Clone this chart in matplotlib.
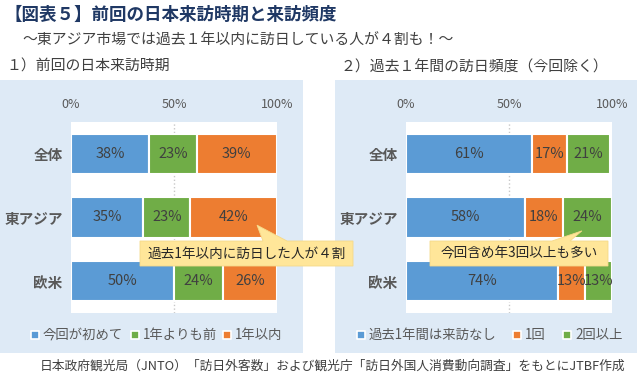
import numpy as np
import matplotlib
matplotlib.use('Agg')
import matplotlib.pyplot as plt
from matplotlib.patches import Rectangle, Polygon

plt.rcParams['font.family'] = ['Noto Sans CJK JP', 'DejaVu Sans']

# data
categories = ['全体', '東アジア', '欧米']

left_series = ['今回が初めて', '1年よりも前', '1年以内']
left_first = [38, 35, 50]
left_before = [23, 23, 24]
left_within = [39, 42, 26]

right_series = ['過去1年間は来訪なし', '1回', '2回以上']
right_none = [61, 58, 74]
right_once = [17, 18, 13]
right_twice = [21, 24, 13]

tick_vals = [0, 50, 100]
tick_labels = ['0%', '50%', '100%']

BLUE = '#5B9BD5'
GREEN = '#70AD47'
ORANGE = '#ED7D31'
BG = '#DEEAF6'
TXT = '#404040'
CAT = '#595959'

W, H = 640, 382
fig = plt.figure(figsize=(W / 100, H / 100), dpi=100)

# background layer in pixel coords
bg = fig.add_axes([0, 0, 1, 1], zorder=0)
bg.set_xlim(0, W)
bg.set_ylim(H, 0)
bg.axis('off')
bg.add_patch(Rectangle((0, 80), 303, 273, color=BG, lw=0))
bg.add_patch(Rectangle((335, 80), 302, 273, color=BG, lw=0))


def px_axes(x0, y0, x1, y1):
    return fig.add_axes([x0 / W, 1 - y1 / H, (x1 - x0) / W, (y1 - y0) / H], zorder=1)


def draw_panel(ax, series, colors):
    y = np.arange(len(categories))
    left = np.zeros(len(categories))
    for vals, c in zip(series, colors):
        vals = np.array(vals, dtype=float)
        ax.barh(y, vals, left=left, height=0.63, color=c, edgecolor='white', linewidth=1.5, zorder=2)
        for yi, v, l in zip(y, vals, left):
            ax.text(l + v / 2, yi, f'{int(v)}%', ha='center', va='center', fontsize=10.5, color=TXT, zorder=3)
        left += vals
    ax.axvline(50, linestyle=':', color='#C8C8C8', lw=1, zorder=1)
    ax.set_xlim(0, 100)
    ax.set_ylim(2.5, -0.5)
    ax.xaxis.tick_top()
    ax.set_xticks(tick_vals)
    ax.set_xticklabels(tick_labels)
    ax.set_yticks(y)
    ax.set_yticklabels(categories, fontweight='bold')
    ax.tick_params(axis='x', length=0, pad=8, labelsize=9, colors=CAT)
    ax.tick_params(axis='y', length=0, pad=6, labelsize=10.5, colors=CAT)
    for s in ax.spines.values():
        s.set_visible(False)
    ax.set_facecolor('white')


ax1 = px_axes(71, 122, 277, 313)
draw_panel(ax1, [left_first, left_before, left_within], [BLUE, GREEN, ORANGE])
ax2 = px_axes(406, 122, 612, 313)
draw_panel(ax2, [right_none, right_once, right_twice], [BLUE, ORANGE, GREEN])

# top layer for texts and callouts
top = fig.add_axes([0, 0, 1, 1], zorder=5)
top.set_xlim(0, W)
top.set_ylim(H, 0)
top.axis('off')
top.patch.set_alpha(0)

top.text(4, 15, '【図表５】前回の日本来訪時期と来訪頻度', fontsize=12.6, fontweight='bold',
         color='#1F3864', va='center')
top.text(22, 41, '～東アジア市場では過去１年以内に訪日している人が４割も！～', fontsize=10.7,
         color=TXT, va='center')
top.text(6, 67, '１）前回の日本来訪時期', fontsize=10.7, color=TXT, va='center')
top.text(341, 67, '２）過去１年間の訪日頻度（今回除く）', fontsize=10.7, color=TXT, va='center')
top.text(40, 366, '日本政府観光局（JNTO）「訪日外客数」および観光庁「訪日外国人消費動向調査」をもとにJTBF作成',
         fontsize=9.2, color=TXT, va='center')


def to_px(ax, x, y):
    dx, dy = ax.transData.transform((x, y))
    return dx, H - dy


def callout(ax, tip, box, base, text):
    tx, ty = to_px(ax, *tip)
    x0, y0, x1, y1 = box
    b0, b1 = base
    pts = [(x0, y0), (b0, y0), (tx, ty), (b1, y0), (x1, y0), (x1, y1), (x0, y1)]
    top.add_patch(Polygon(pts, closed=True, facecolor='#FFE699', edgecolor='#F5D98A', lw=0.6))
    top.text((x0 + x1) / 2, (y0 + y1) / 2, text, ha='center', va='center', fontsize=9.8, color='#262626')


callout(ax1, (90.3, 1.12), (140, 241, 353, 266), (263, 287), '過去1年以内に訪日した人が４割')
callout(ax2, (85.4, 1.21), (430, 241, 608, 266), (552, 570), '今回含め年3回以上も多い')


def legend_row(items, colors, mx):
    for (label, c, x) in zip(items, colors, mx):
        top.scatter([x], [335], marker='s', s=28, color=c, edgecolor='white', linewidth=1.2)
        top.text(x + 8, 335, label, fontsize=9.6, color=CAT, va='center')


legend_row(left_series, [BLUE, GREEN, ORANGE], [35, 135, 227])
legend_row(right_series, [BLUE, ORANGE, GREEN], [361, 517, 567])

fig.savefig('out.png', dpi=100)
